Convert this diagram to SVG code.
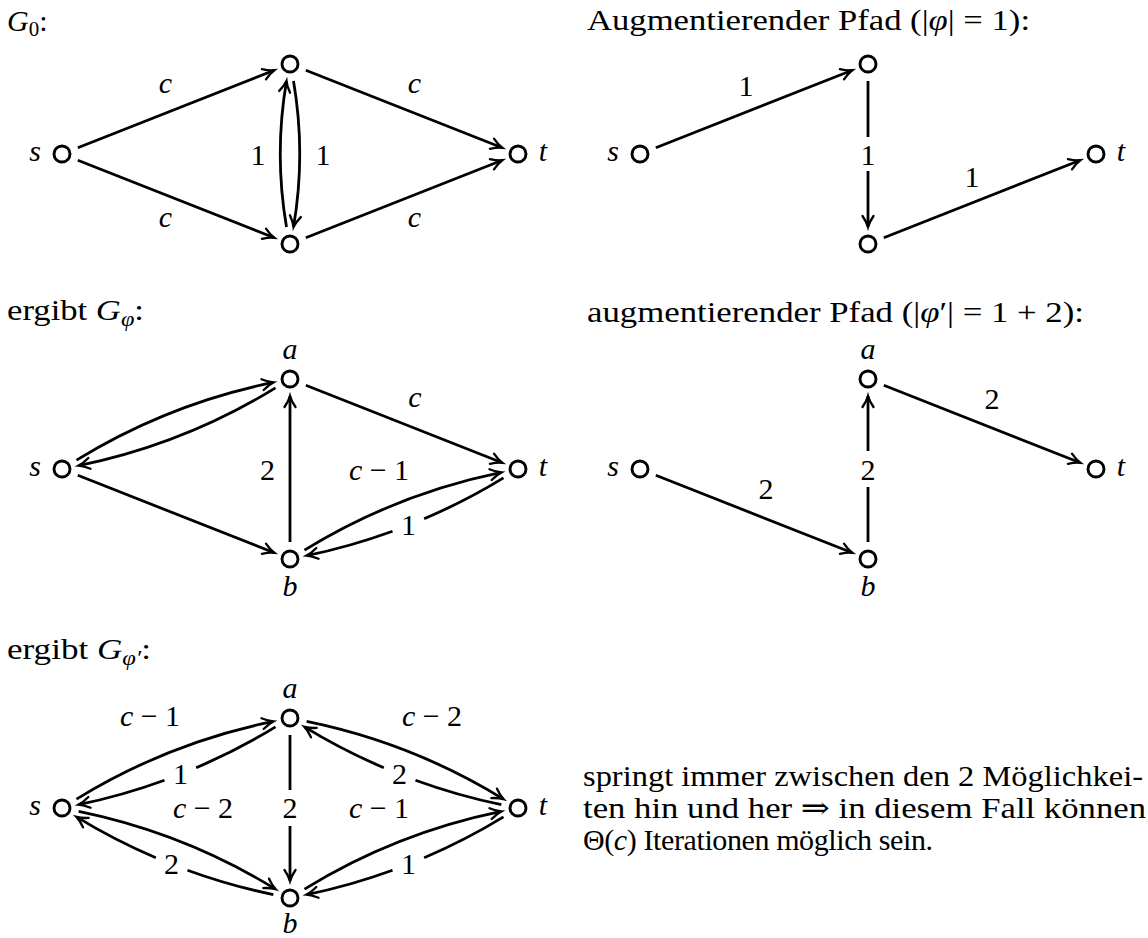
<svg xmlns="http://www.w3.org/2000/svg" width="1148" height="938" viewBox="0 0 1148 938">
<style>
text{font-family:"Liberation Serif","DejaVu Serif",serif;font-size:30px;fill:#000}
.i{font-style:italic}
.m{text-anchor:middle}
.e{fill:none;stroke:#000;stroke-width:2.8;marker-end:url(#ar)}
.g{stroke-dasharray:42 16 100}
.n{fill:#fff;stroke:#000;stroke-width:2.9}
.sub{font-size:21px}
</style>
<defs>
<marker id="ar" markerUnits="userSpaceOnUse" markerWidth="16" markerHeight="16" viewBox="-13 -8 16 16" refX="0" refY="0" orient="auto" overflow="visible">
<path d="M-11,-5.5 C-7,-2.8 -3.2,-0.9 0,0 C-3.2,0.9 -7,2.8 -11,5.5" fill="none" stroke="#000" stroke-width="2.3" stroke-linecap="round"/>
</marker>
<circle id="nd" r="8" class="n"/>
</defs>

<!-- titles -->
<text x="7" y="31"><tspan class="i">G</tspan><tspan class="sub" dy="5">0</tspan><tspan dy="-5">:</tspan></text>
<text x="587" y="30" textLength="443" lengthAdjust="spacingAndGlyphs">Augmentierender Pfad (|<tspan class="i">φ</tspan>| = 1):</text>
<text x="7" y="320" textLength="137" lengthAdjust="spacingAndGlyphs">ergibt <tspan class="i">G</tspan><tspan class="sub i" dy="6">φ</tspan><tspan dy="-6">:</tspan></text>
<text x="587" y="322" textLength="497" lengthAdjust="spacingAndGlyphs">augmentierender Pfad (|<tspan class="i">φ</tspan>′| = 1 + 2):</text>
<text x="7" y="659" textLength="144" lengthAdjust="spacingAndGlyphs">ergibt <tspan class="i">G</tspan><tspan class="sub i" dy="6">φ′</tspan><tspan dy="-6">:</tspan></text>

<!-- Graph 1: G0 -->
<g id="g0" transform="translate(290,154)">
<g id="g0-edges">
<path class="e" d="M-212.19,-6.24 L-15.81,-83.76"/>
<path class="e" d="M15.81,-83.76 L212.19,-6.24"/>
<path class="e" d="M-212.19,6.24 L-15.81,83.76"/>
<path class="e" d="M15.81,83.76 L212.19,6.24"/>
<path class="e" d="M-3.5,73 Q-16,0 -3.5,-73"/>
<path class="e" d="M3.5,-73 Q16,0 3.5,73"/>
</g>
<g id="g0-s"><use href="#nd" x="-228" y="0"/><text class="i m" x="-255" y="7">s</text></g>
<g id="g0-a"><use href="#nd" x="0" y="-90"/></g>
<g id="g0-b"><use href="#nd" x="0" y="90"/></g>
<g id="g0-t"><use href="#nd" x="228" y="0"/><text class="i m" x="253" y="7">t</text></g>
<g id="g0-labels">
<text class="i m" x="-124.5" y="-61">c</text>
<text class="i m" x="124.5" y="-61">c</text>
<text class="i m" x="-124.5" y="72.5">c</text>
<text class="i m" x="124.5" y="72.5">c</text>
<text class="m" x="-32" y="11">1</text>
<text class="m" x="33" y="11">1</text>
</g>
</g>

<!-- Graph 2: augmenting path 1 -->
<g id="p1" transform="translate(868,154)">
<g id="p1-edges">
<path class="e" d="M-212.19,-6.24 L-15.81,-83.76"/>
<path class="e" d="M0,-73 V-17 M0,17 V73"/>
<path class="e" d="M15.81,83.76 L212.19,6.24"/>
</g>
<g id="p1-s"><use href="#nd" x="-228" y="0"/><text class="i m" x="-255" y="7">s</text></g>
<g id="p1-a"><use href="#nd" x="0" y="-90"/></g>
<g id="p1-b"><use href="#nd" x="0" y="90"/></g>
<g id="p1-t"><use href="#nd" x="228" y="0"/><text class="i m" x="253" y="7">t</text></g>
<g id="p1-labels">
<text class="m" x="-122" y="-58">1</text>
<text class="m" x="0" y="11">1</text>
<text class="m" x="104" y="33">1</text>
</g>
</g>

<!-- Graph 3: G_phi -->
<g id="gphi" transform="translate(290,469)">
<g id="gphi-edges">
<path class="e" d="M-213.51,-8.89 C-154.02,-45.40 -85.05,-72.64 -16.66,-86.60"/>
<path class="e" d="M-14.49,-81.11 C-73.98,-44.60 -142.95,-17.36 -211.34,-3.40"/>
<path class="e" d="M-212.19,6.24 L-15.81,83.76"/>
<path class="e" d="M0,73 L0,-73"/>
<path class="e" d="M15.81,-83.76 L212.19,-6.24"/>
<path class="e" d="M14.49,81.11 C73.98,44.60 142.95,17.36 211.34,3.40"/>
<path class="e g" pathLength="100" d="M213.51,8.89 C154.02,45.40 85.05,72.64 16.66,86.60"/>
</g>
<g id="gphi-s"><use href="#nd" x="-228" y="0"/><text class="i m" x="-255" y="7">s</text></g>
<g id="gphi-a"><use href="#nd" x="0" y="-90"/><text class="i m" x="0" y="-110">a</text></g>
<g id="gphi-b"><use href="#nd" x="0" y="90"/><text class="i m" x="0" y="127">b</text></g>
<g id="gphi-t"><use href="#nd" x="228" y="0"/><text class="i m" x="253" y="7">t</text></g>
<g id="gphi-labels">
<text class="m" x="-22.5" y="11">2</text>
<text class="i m" x="125" y="-62">c</text>
<text class="m" x="89" y="11"><tspan class="i">c</tspan> − 1</text>
<text class="m" x="118.4" y="66">1</text>
</g>
</g>

<!-- Graph 4: augmenting path 2 -->
<g id="p2" transform="translate(868,469)">
<g id="p2-edges">
<path class="e" d="M-212.19,6.24 L-15.81,83.76"/>
<path class="e" d="M0,73 V18 M0,-18 V-73"/>
<path class="e" d="M15.81,-83.76 L212.19,-6.24"/>
</g>
<g id="p2-s"><use href="#nd" x="-228" y="0"/><text class="i m" x="-255" y="7">s</text></g>
<g id="p2-a"><use href="#nd" x="0" y="-90"/><text class="i m" x="0" y="-110">a</text></g>
<g id="p2-b"><use href="#nd" x="0" y="90"/><text class="i m" x="0" y="127">b</text></g>
<g id="p2-t"><use href="#nd" x="228" y="0"/><text class="i m" x="253" y="7">t</text></g>
<g id="p2-labels">
<text class="m" x="124" y="-60">2</text>
<text class="m" x="0" y="11">2</text>
<text class="m" x="-102" y="30">2</text>
</g>
</g>

<!-- Graph 5: G_phi' -->
<g id="gphi2" transform="translate(290,808)">
<g id="gphi2-edges">
<path class="e" d="M-213.51,-8.89 C-154.02,-45.40 -85.05,-72.64 -16.66,-86.60"/>
<path class="e g" pathLength="100" d="M-14.49,-81.11 C-73.98,-44.60 -142.95,-17.36 -211.34,-3.40"/>
<path class="e" d="M-211.34,3.40 C-142.95,17.36 -73.98,44.60 -14.49,81.11"/>
<path class="e g" pathLength="100" d="M-16.66,86.60 C-85.05,72.64 -154.02,45.40 -213.51,8.89"/>
<path class="e" d="M16.66,-86.60 C85.05,-72.64 154.02,-45.40 213.51,-8.89"/>
<path class="e g" pathLength="100" d="M211.34,-3.40 C142.95,-17.36 73.98,-44.60 14.49,-81.11"/>
<path class="e" d="M14.49,81.11 C73.98,44.60 142.95,17.36 211.34,3.40"/>
<path class="e g" pathLength="100" d="M213.51,8.89 C154.02,45.40 85.05,72.64 16.66,86.60"/>
<path class="e" d="M0,-73 V-18 M0,18 V73"/>
</g>
<g id="gphi2-s"><use href="#nd" x="-228" y="0"/><text class="i m" x="-255" y="7">s</text></g>
<g id="gphi2-a"><use href="#nd" x="0" y="-90"/><text class="i m" x="0" y="-110">a</text></g>
<g id="gphi2-b"><use href="#nd" x="0" y="90"/><text class="i m" x="0" y="125">b</text></g>
<g id="gphi2-t"><use href="#nd" x="228" y="0"/><text class="i m" x="253" y="7">t</text></g>
<g id="gphi2-labels">
<text class="m" x="-140" y="-82"><tspan class="i">c</tspan> − 1</text>
<text class="m" x="142" y="-82"><tspan class="i">c</tspan> − 2</text>
<text class="m" x="-109.6" y="-23.8">1</text>
<text class="m" x="109.6" y="-23.8">2</text>
<text class="m" x="-87" y="10"><tspan class="i">c</tspan> − 2</text>
<text class="m" x="0" y="10">2</text>
<text class="m" x="89" y="10"><tspan class="i">c</tspan> − 1</text>
<text class="m" x="-118.4" y="66">2</text>
<text class="m" x="118.4" y="66">1</text>
</g>
</g>

<!-- paragraph -->
<g id="note">
<text x="583" y="786" textLength="560" lengthAdjust="spacingAndGlyphs">springt immer zwischen den 2 Möglichkei-</text>
<text x="583" y="818" textLength="563" lengthAdjust="spacingAndGlyphs">ten hin und her ⇒ in diesem Fall können</text>
<text x="583" y="850" textLength="350" lengthAdjust="spacing">Θ(<tspan class="i">c</tspan>) Iterationen möglich sein.</text>
</g>
</svg>
